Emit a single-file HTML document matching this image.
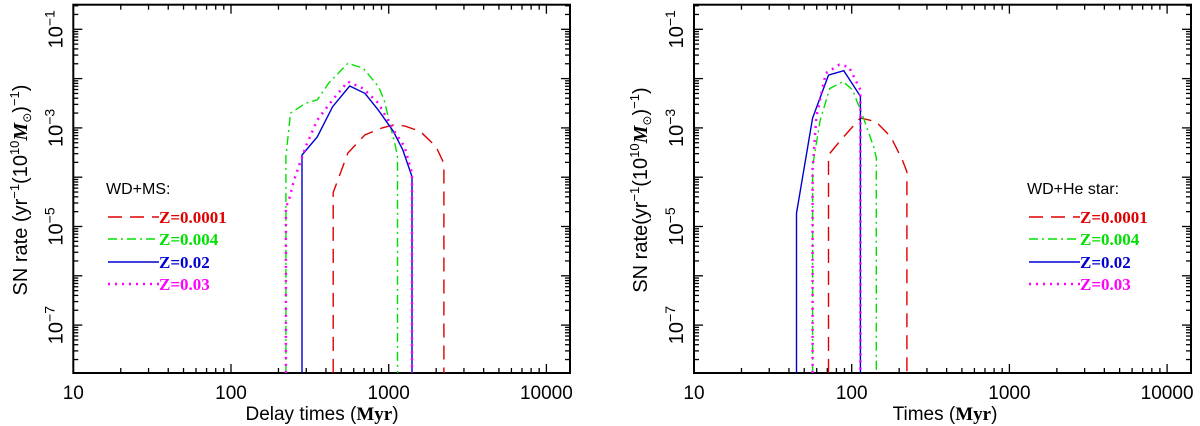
<!DOCTYPE html>
<html><head><meta charset="utf-8"><style>
body{margin:0;background:#fff;}
svg{display:block;font-family:"Liberation Sans",sans-serif;}
</style></head><body>
<svg id="c" width="1200" height="426" viewBox="0 0 1200 426"></svg>
<script>
// ---- data (log10 Myr, log10 rate) ----
const seriesNames = ["Z=0.0001","Z=0.004","Z=0.02","Z=0.03"];
const seriesColors = ["#e00000","#00e000","#0000d0","#ff00ff"];
const seriesDash = ["14,8","9,4,2,4","","2,5"];
const BOT = -8;
// left panel: WD+MS
const msRedT = [2.648,2.648,2.741,2.850,2.959,3.03,3.10,3.20,3.30,3.35,3.35];
const msRedR = [BOT,-4.31,-3.51,-3.14,-3.0,-2.94,-2.96,-3.07,-3.38,-3.72,BOT];
const msGreenT = [2.348,2.348,2.377,2.474,2.547,2.62,2.741,2.838,2.935,2.971,3.007,3.044,3.056,3.056];
const msGreenR = [BOT,-3.58,-2.70,-2.50,-2.43,-2.09,-1.69,-1.79,-2.16,-2.43,-2.91,-3.38,-3.6,BOT];
const msBlueT = [2.45,2.45,2.547,2.644,2.753,2.85,2.935,3.03,3.09,3.148,3.148];
const msBlueR = [BOT,-3.55,-3.18,-2.57,-2.15,-2.30,-2.64,-3.07,-3.45,-3.99,BOT];
const msMagT = [2.348,2.348,2.365,2.401,2.474,2.547,2.644,2.741,2.838,2.935,3.03,3.10,3.148,3.148];
const msMagR = [BOT,-4.6,-4.49,-4.05,-3.38,-2.84,-2.43,-2.06,-2.20,-2.50,-3.04,-3.38,-3.92,BOT];
// right panel: WD+He star
const heRedT = [1.853,1.853,1.933,2.055,2.152,2.248,2.321,2.35,2.35];
const heRedR = [BOT,-3.55,-3.24,-2.80,-2.87,-3.18,-3.65,-3.89,BOT];
const heGreenT = [1.752,1.752,1.80,1.861,1.945,2.006,2.079,2.139,2.156,2.156];
const heGreenR = [BOT,-3.78,-2.84,-2.20,-2.06,-2.23,-2.84,-3.38,-3.6,BOT];
const heBlueT = [1.65,1.65,1.752,1.853,1.950,2.055,2.055];
const heBlueR = [BOT,-4.73,-2.80,-1.93,-1.84,-2.36,BOT];
const heMagT = [1.752,1.752,1.776,1.836,1.921,1.982,2.055,2.055];
const heMagR = [BOT,-3.85,-2.77,-1.89,-1.72,-1.76,-2.23,BOT];
const xTickLabels = ["10","100","1000","10000"];
const yTickExp = ["-1","-3","-5","-7"];

const NS="http://www.w3.org/2000/svg";
const svg=document.getElementById('c');
function mk(tag,attrs,parent){const e=document.createElementNS(NS,tag);for(const k in attrs)e.setAttribute(k,attrs[k]);(parent||svg).appendChild(e);return e;}

function panel(p){
  const g=mk('g',{});
  
  
  const X0=p.x0,X1=p.x1,Y0=4.7,Y1=373,dec=157.7;
  const xs=l=>X0+(l-1)*dec;
  const ys=l=>29.3+(-1-l)*49.3;
  const tg=mk('g',{stroke:'#000','stroke-width':1.3},g);
  
  
  for(let d=1;d<=4;d++){for(let m=1;m<10;m++){const l=d+Math.log10(m);const x=xs(l);if(x>X1)continue;const len=m===1?9:5;
    mk('line',{x1:x,y1:Y1,x2:x,y2:Y1-len},tg);mk('line',{x1:x,y1:Y0,x2:x,y2:Y0+len},tg);}}
  for(let d=-8;d<=-1;d++){for(let m=1;m<10;m++){const l=d+Math.log10(m);const y=ys(l);if(y<Y0||y>Y1)continue;const len=m===1?9:5;
    mk('line',{x1:X0,y1:y,x2:X0+len,y2:y},tg);mk('line',{x1:X1,y1:y,x2:X1-len,y2:y},tg);}}
  const fr=mk('rect',{x:X0,y:Y0,width:X1-X0,height:Y1-Y0,fill:'none',stroke:'#000','stroke-width':2},g);
  
  
  xTickLabels.forEach((t,i)=>{const e=mk('text',{x:xs(i+1),y:399,'font-size':19,'text-anchor':'middle'},g);e.textContent=t;
    
    });
  yTickExp.forEach((t,i)=>{const y=ys(-1-2*i);const e=mk('text',{transform:`translate(${X0-11},${y}) rotate(-90)`,'font-size':20,'text-anchor':'middle'},g);
    e.innerHTML=`10<tspan dy="-8" font-size="14">${t.replace('-','−')}</tspan>`;
    
    });
  const xt=mk('text',{x:p.xtX,y:420,'font-size':19,'text-anchor':'middle'},g);
  xt.innerHTML=p.xtitle+' (<tspan font-family="Liberation Serif" font-weight="bold">Myr</tspan>)';
  
  
  const yt=mk('text',{transform:`translate(${p.ytX},190) rotate(-90)`,'font-size':20,'text-anchor':'middle'},g);
  yt.innerHTML=p.ytitle+'<tspan dy="-8" font-size="13">−1</tspan><tspan dy="8">(10</tspan><tspan dy="-8" font-size="13">10</tspan><tspan dy="8" font-family="Liberation Serif" font-weight="bold" font-style="italic">M</tspan><tspan dy="4" font-size="12">⊙</tspan><tspan dy="-4">)</tspan><tspan dy="-8" font-size="13">−1</tspan><tspan dy="8">)</tspan>';
  
  
  p.series.forEach((s,i)=>{const pts=s[0].map((t,j)=>xs(t).toFixed(1)+','+ys(Math.max(s[1][j],-7.97)).toFixed(1)).join(' ');
    const a={points:pts,fill:'none',stroke:seriesColors[i],'stroke-width':i===3?2.5:1.4};
    if(seriesDash[i])a['stroke-dasharray']=seriesDash[i];
    const pl=mk('polyline',a,g);
    
    });
  const lg=mk('g',{},g);
  
  
  const lt=mk('text',{x:p.lx-2,y:194,'font-size':16},lg);lt.textContent=p.ltitle;
  const ly=[217,239,262,284];
  seriesNames.forEach((n,i)=>{const a={x1:p.lx,y1:ly[i],x2:p.lx+51,y2:ly[i],stroke:seriesColors[i],'stroke-width':i===3?2.5:1.4};
    if(seriesDash[i])a['stroke-dasharray']=seriesDash[i];
    const ln=mk('line',a,lg);
    
    
    const tx=mk('text',{x:p.lx+51,y:ly[i]+6,'font-size':17,'font-weight':'bold','font-family':'Liberation Serif',fill:seriesColors[i]},lg);
    tx.textContent=n;
    
    });
}
panel({name:'wd-ms-panel',x0:73.3,x1:570,xtX:322,xtitle:'Delay times',ytX:27,ytitle:'SN rate (yr',ltitle:'WD+MS:',lx:108,
  series:[[msRedT,msRedR],[msGreenT,msGreenR],[msBlueT,msBlueR],[msMagT,msMagR]]});
panel({name:'wd-he-panel',x0:694,x1:1191,xtX:945,xtitle:'Times',ytX:647,ytitle:'SN rate(yr',ltitle:'WD+He star:',lx:1029,
  series:[[heRedT,heRedR],[heGreenT,heGreenR],[heBlueT,heBlueR],[heMagT,heMagR]]});
</script>
</body></html>
